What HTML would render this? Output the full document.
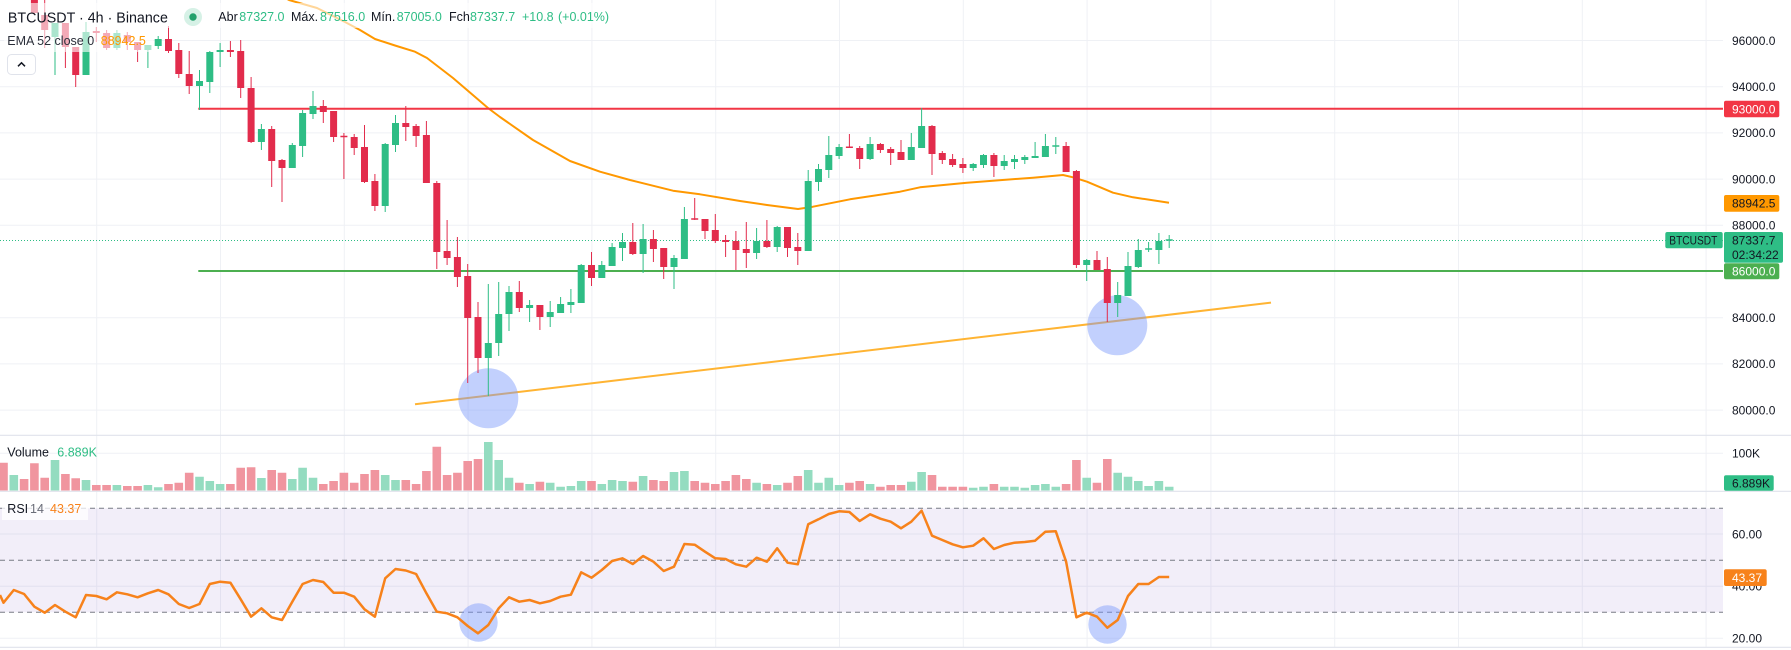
<!DOCTYPE html>
<html><head><meta charset="utf-8"><style>
html,body{margin:0;padding:0;background:#fff;width:1791px;height:650px;overflow:hidden}
svg{display:block;font-family:"Liberation Sans",sans-serif}
</style></head><body>
<svg width="1791" height="650" viewBox="0 0 1791 650" xmlns="http://www.w3.org/2000/svg">
<rect width="1791" height="650" fill="#fff"/>
<!-- grid -->
<g stroke="#eff1f5" stroke-width="1">
<path d="M0 40.5H1723M0 86.7H1723M0 132.9H1723M0 179.1H1723M0 225.3H1723M0 317.7H1723M0 363.9H1723M0 410.1H1723M0 453.3H1723M0 534H1723M0 586.3H1723M0 638.3H1723"/>
<path d="M96.7 0V647M220.5 0V647M344.3 0V647M468.1 0V647M591.9 0V647M715.7 0V647M839.5 0V647M963.3 0V647M1087.1 0V647M1210.9 0V647M1334.7 0V647M1458.5 0V647M1582.3 0V647M1706.1 0V647"/>
</g>
<!-- pane separators -->
<g stroke="#e0e3eb" stroke-width="1.2">
<path d="M0 435.3H1791M0 491.3H1791M0 647.3H1791"/>
</g>
<!-- RSI band -->
<rect x="0" y="508.3" width="1723" height="104" fill="rgb(126,87,194)" fill-opacity="0.1"/>
<g stroke="#787b86" stroke-width="1" stroke-dasharray="5 4">
<path d="M0 508.3H1723M0 560.3H1723M0 612.3H1723"/>
</g>
<!-- volume -->
<path fill="none" stroke="#94dcc0" stroke-width="8.6" d="M13.8 490.5V475M55 490.5V460M86 490.5V480M116.9 490.5V485M147.9 490.5V485M158.2 490.5V487.3M199.5 490.5V476.7M209.8 490.5V481M220.1 490.5V484M261.4 490.5V478M292.3 490.5V479M302.6 490.5V467.7M313 490.5V477.7M385.2 490.5V475M395.5 490.5V480M488.3 490.5V442M498.7 490.5V460M509 490.5V477.7M529.6 490.5V484M550.2 490.5V482.7M560.6 490.5V486.7M570.9 490.5V486M581.2 490.5V481M601.8 490.5V484M612.1 490.5V480M622.5 490.5V481M643.1 490.5V476M674 490.5V472M684.4 490.5V471M756.6 490.5V482.7M777.2 490.5V485M808.2 490.5V470M818.5 490.5V482.7M828.8 490.5V477.7M839.1 490.5V485M870.1 490.5V484M911.3 490.5V481.7M921.6 490.5V472M973.2 490.5V487.7M983.5 490.5V486.7M1004.2 490.5V486.7M1014.5 490.5V486.7M1024.8 490.5V487.7M1035.1 490.5V485M1045.4 490.5V484M1055.8 490.5V486.7M1086.7 490.5V477.7M1117.7 490.5V472.7M1128 490.5V476.7M1138.3 490.5V481M1148.6 490.5V486M1158.9 490.5V481M1169.2 490.5V486.7"/>
<path fill="none" stroke="#f0959f" stroke-width="8.6" d="M3.5 490.5V462.7M24.1 490.5V479M34.4 490.5V463.3M44.7 490.5V477.7M65.4 490.5V474M75.7 490.5V478.3M96.3 490.5V485M106.6 490.5V485M127.3 490.5V486M137.6 490.5V486M168.5 490.5V484M178.8 490.5V482.7M189.2 490.5V472.7M230.4 490.5V484M240.7 490.5V467.7M251.1 490.5V467.3M271.7 490.5V470M282 490.5V472.7M323.3 490.5V484M333.6 490.5V481M343.9 490.5V472.7M354.2 490.5V482.7M364.5 490.5V474M374.9 490.5V470M405.8 490.5V480M416.1 490.5V484M426.4 490.5V471M436.8 490.5V446.7M447.1 490.5V475M457.4 490.5V472.7M467.7 490.5V461M478 490.5V459M519.3 490.5V482.7M539.9 490.5V481.7M591.5 490.5V481M632.8 490.5V481.7M653.4 490.5V480M663.7 490.5V481M694.7 490.5V481M705 490.5V482.7M715.3 490.5V484M725.6 490.5V481M735.9 490.5V475M746.3 490.5V479M766.9 490.5V484M787.5 490.5V482.7M797.8 490.5V476M849.4 490.5V482.7M859.7 490.5V481M880.4 490.5V486.7M890.7 490.5V485M901 490.5V485M932 490.5V475M942.3 490.5V486.7M952.6 490.5V486.7M962.9 490.5V486.7M993.9 490.5V484M1066.1 490.5V484M1076.4 490.5V460M1097 490.5V482.7M1107.3 490.5V459"/>
<!-- trend line -->
<line x1="415" y1="404.3" x2="1271" y2="302.6" stroke="#ffb433" stroke-width="2"/>
<!-- circles price -->
<circle cx="488.3" cy="398.3" r="30" fill="rgb(120,150,250)" fill-opacity="0.45"/>
<circle cx="1117.3" cy="325.3" r="30" fill="rgb(120,150,250)" fill-opacity="0.45"/>
<!-- EMA -->
<path fill="none" stroke="#ff9800" stroke-width="2" stroke-linejoin="round" d="M280 -5L289 0L317 8L345 22L360 30L375 39L395 45.5L415 51.7L427 58L453 78L488 108L500 117L533 140L570 161L600 171.7L630 180L673 190.7L700 194.3L740 201L767 205L798 209L813 206.7L850 199.3L900 191.7L920 187.3L967 182.7L1033 177.7L1063 175L1073 177.3L1087 181.7L1113 192.7L1133 197.3L1169 202.7"/>
<!-- horizontal lines -->
<line x1="198.3" y1="108.7" x2="1723" y2="108.7" stroke="#f23645" stroke-width="2"/>
<line x1="198.3" y1="271" x2="1723" y2="271" stroke="#4caf50" stroke-width="2"/>
<line x1="0" y1="240.5" x2="1723" y2="240.5" stroke="#2ebd85" stroke-width="1" stroke-dasharray="1 2"/>
<!-- candles green -->
<path fill="none" stroke="#2ebd85" stroke-width="1" d="M55 23V75M86 22V75M116.9 30V50M147.9 45V68M158.2 36V49M199.5 70V110M209.8 51V93M220.1 43V67M261.4 124V150M292.3 143V168M302.6 110V157M313 91V119M385.2 143V212M395.5 115V152M488.3 284V396M498.7 282V356M509 286V331M529.6 300V322M550.2 301V327M560.6 297V313M570.9 289V313M581.2 264V303M601.8 261V278M612.1 243V266M622.5 233V261M643.1 224V273M674 255V289M684.4 207V259M756.6 228V259M777.2 226V252M808.2 170V251M818.5 164V191M828.8 136V178M839.1 144V159M870.1 137V160M911.3 133V160M921.6 108V148M973.2 163V171M983.5 154V168M1004.2 155V170M1014.5 155V169M1024.8 155V164M1035.1 142V158M1045.4 134V157M1055.8 137V154M1086.7 259V281M1117.7 282V317M1128 252V296M1138.3 239V268M1148.6 242V252M1158.9 233V264M1169.2 235V248"/>
<path fill="none" stroke="#2ebd85" stroke-width="7" d="M55 23V37M86 32V75M116.9 33V48M147.9 45V50M158.2 39V46M199.5 81V86M209.8 52V82M220.1 50V52M261.4 129V142M292.3 145V168M302.6 113V146M313 106V114M385.2 144V206M395.5 123V145M488.3 343V358M498.7 314V343M509 292V314M529.6 305V308M550.2 312V317M560.6 304V313M570.9 302V305M581.2 265V303M601.8 265V278M612.1 247V266M622.5 242V248M643.1 239V254M674 258V267M684.4 219V259M756.6 241V253M777.2 227V247M808.2 181V251M818.5 169V182M828.8 155V170M839.1 147V156M870.1 144V159M911.3 147V160M921.6 126V148M973.2 164V168M983.5 155V165M1004.2 161V166M1014.5 159V162M1024.8 157V160M1035.1 156V158M1045.4 146V157M1055.8 145.3V146.8M1086.7 260V265M1117.7 295V303M1128 266V296M1138.3 250V267M1148.6 248.3V249.8M1158.9 241V250M1169.2 239.3V240.8"/>
<!-- candles red -->
<path fill="none" stroke="#e22c4c" stroke-width="1" d="M34.4 -5V15M44.7 0V48M65.4 23V68M75.7 47V87M96.3 27V42M106.6 30V50M127.3 32V50M137.6 42V62M168.5 26V53M178.8 43V78M189.2 51V94M230.4 41V57M240.7 40V98M251.1 77V143M271.7 126V187M282 159V202M323.3 100V123M333.6 111V142M343.9 133V179M354.2 134V155M364.5 125V183M374.9 174V211M405.8 106V141M416.1 124V147M426.4 121V183M436.8 181V269M447.1 220V265M457.4 237V287M467.7 264V383M478 302V373M519.3 281V312M539.9 305V330M591.5 252V286M632.8 223V255M653.4 230V262M663.7 248V279M694.7 198V220M705 219V239M715.3 214V243M725.6 235V257M735.9 231V270M746.3 222V268M766.9 220V248M787.5 227V257M797.8 233V265M849.4 134V148M859.7 146V169M880.4 143V153M890.7 147V165M901 140V160M932 125V175M942.3 151V164M952.6 154V167M962.9 158V173M993.9 153V177M1066.1 142V172M1076.4 170V268M1097 251V270M1107.3 257V322"/>
<path fill="none" stroke="#e22c4c" stroke-width="7" d="M34.4 -5V13M44.7 15V30M65.4 23V47M75.7 47V75M96.3 31V33M106.6 33V48M127.3 35V42M137.6 42V50M168.5 39V51M178.8 50V74M189.2 74V86M230.4 50V52M240.7 51V88M251.1 88V142M271.7 129V161M282 160V168M323.3 106V112M333.6 111V137M343.9 135.8V137.3M354.2 137V148M364.5 147V182M374.9 181V206M405.8 123V127M416.1 126V136M426.4 135V183M436.8 183V252M447.1 251V258M457.4 257V277M467.7 276V318M478 317V358M519.3 292V308M539.9 305V317M591.5 265V278M632.8 242V254M653.4 239V249M663.7 248V267M694.7 218.3V219.8M705 219V231M715.3 230V241M725.6 240V242M735.9 241V250M746.3 249V253M766.9 241V247M787.5 227V248M797.8 247V251M849.4 146.5V148M859.7 148V159M880.4 144V150M890.7 149V153M901 152V160M932 126V154M942.3 153V160M952.6 159V165M962.9 164V168M993.9 155V166M1066.1 146V172M1076.4 171V265M1097 260V270M1107.3 269V303"/>
<!-- legend backgrounds -->
<rect x="4" y="3" width="606" height="25" fill="#fff" fill-opacity="0.6"/>
<rect x="4" y="28" width="149" height="24" fill="#fff" fill-opacity="0.6"/>
<rect x="2" y="503" width="86" height="17" fill="#fff" fill-opacity="0.75"/>
<!-- legend line 1 -->
<text x="7.9" y="22.5" font-size="14.5" fill="#131722" textLength="160" lengthAdjust="spacingAndGlyphs">BTCUSDT · 4h · Binance</text>
<circle cx="193" cy="17" r="9" fill="#d6f1e6"/>
<circle cx="193" cy="17" r="3.7" fill="#22a06b"/>
<g font-size="12.5">
<text x="218.3" y="20.8" fill="#131722">Abr</text>
<text x="239.3" y="20.8" fill="#2ebd85">87327.0</text>
<text x="291" y="20.8" fill="#131722">Máx.</text>
<text x="320" y="20.8" fill="#2ebd85">87516.0</text>
<text x="371" y="20.8" fill="#131722">Mín.</text>
<text x="396.7" y="20.8" fill="#2ebd85">87005.0</text>
<text x="449" y="20.8" fill="#131722">Fch</text>
<text x="470" y="20.8" fill="#2ebd85">87337.7</text>
<text x="522" y="20.8" fill="#2ebd85">+10.8</text>
<text x="558" y="20.8" fill="#2ebd85">(+0.01%)</text>
<text x="7.3" y="45" fill="#2a2e39">EMA 52 close 0</text>
<text x="100.7" y="45" fill="#ff9800">88942.5</text>
<text x="7.3" y="456.7" fill="#131722">Volume</text>
<text x="57.3" y="456.7" fill="#2ebd85">6.889K</text>
<text x="7.3" y="513" fill="#131722">RSI</text>
<text x="30" y="513" fill="#6a6d78">14</text>
<text x="50" y="513" fill="#f7821b">43.37</text>
</g>
<!-- collapse button -->
<rect x="7.5" y="54.5" width="28" height="20" rx="4" fill="#fff" stroke="#e0e3eb"/>
<path d="M18 66.3L21.5 62.8L25 66.3" fill="none" stroke="#131722" stroke-width="1.5"/>
<!-- RSI circles and line -->
<circle cx="478.5" cy="622.5" r="19.2" fill="rgb(120,150,250)" fill-opacity="0.45"/>
<circle cx="1107.5" cy="624.5" r="19.2" fill="rgb(120,150,250)" fill-opacity="0.45"/>
<polyline fill="none" stroke="#f7821b" stroke-width="2.5" stroke-linejoin="round" points="0,595 3.5,602.7 13.8,590 24.1,594 34.4,606.7 44.7,612.7 55,605 65.4,611.7 75.7,617.3 86,595 96.3,596 106.6,599.3 116.9,592.3 127.3,594.3 137.6,597.3 147.9,593.3 158.2,590 168.5,594.3 178.8,604 189.2,608 199.5,604 209.8,584 220.1,581.7 230.4,582.7 240.7,599.3 251.1,616.7 261.4,608.3 271.7,617.3 282,620 292.3,601.7 302.6,584 313,580 323.3,582 333.6,592.7 343.9,592.7 354.2,596.7 364.5,609.3 374.9,616.7 385.2,578.3 395.5,569 405.8,570.5 416.1,574 426.4,593.3 436.8,611.7 447.1,613.3 457.4,617.3 467.7,626 478,633.3 488.3,625 498.7,608.3 509,597.3 519.3,601.7 529.6,600 539.9,603.3 550.2,601 560.6,596.7 570.9,594.7 581.2,572.3 591.5,577.7 601.8,570 612.1,561 622.5,558.3 632.8,564 643.1,556 653.4,561.7 663.7,571 674,566.7 684.4,544 694.7,544.7 705,551.7 715.3,558.3 725.6,559 735.9,564.3 746.3,566.7 756.6,557.7 766.9,561.7 777.2,548.3 787.5,562.7 797.8,564.3 808.2,524.3 818.5,519.3 828.8,514 839.1,511.3 849.4,512 859.7,521 870.1,514.3 880.4,518.7 890.7,521.7 901,528.3 911.3,521.7 921.6,510.7 932,535.7 942.3,540 952.6,544.3 962.9,547.3 973.2,545.7 983.5,538.3 993.9,549 1004.2,545 1014.5,542.7 1024.8,542 1035.1,540.7 1045.4,531.7 1055.8,531.3 1066.1,561.7 1076.4,617.3 1086.7,612.7 1097,616.7 1107.3,627.7 1117.7,620 1128,596 1138.3,584 1148.6,584 1158.9,577 1169.2,577"/>
<!-- axis labels -->
<g font-size="12" fill="#131722">
<text x="1732" y="45">96000.0</text>
<text x="1732" y="91">94000.0</text>
<text x="1732" y="137.2">92000.0</text>
<text x="1732" y="183.4">90000.0</text>
<text x="1732" y="229.6">88000.0</text>
<text x="1732" y="322">84000.0</text>
<text x="1732" y="368.2">82000.0</text>
<text x="1732" y="414.4">80000.0</text>
<text x="1732" y="457.6">100K</text>
<text x="1732" y="538.3">60.00</text>
<text x="1732" y="590.6">40.00</text>
<text x="1732" y="642.6">20.00</text>
</g>
<rect x="1724" y="100.7" width="55.3" height="16.6" rx="2" fill="#f23645"/>
<text x="1732" y="113.3" font-size="12" fill="#fff">93000.0</text>
<rect x="1724" y="195" width="55.3" height="16.7" rx="2" fill="#ff9800"/>
<text x="1732" y="207.6" font-size="12" fill="#131722">88942.5</text>
<rect x="1665.3" y="232" width="57.4" height="16.3" rx="2" fill="#2ebd85"/>
<text x="1669.3" y="244.4" font-size="12" fill="#131722" textLength="48" lengthAdjust="spacingAndGlyphs">BTCUSDT</text>
<rect x="1724" y="232" width="59" height="30.7" rx="2" fill="#2ebd85"/>
<text x="1732" y="244.4" font-size="12" fill="#131722">87337.7</text>
<text x="1732" y="259" font-size="12" fill="#131722">02:34:22</text>
<rect x="1724" y="263.3" width="55.3" height="16" rx="2" fill="#4caf50"/>
<text x="1732" y="275.6" font-size="12" fill="#fff">86000.0</text>
<rect x="1724" y="475.3" width="49.7" height="15.4" rx="2" fill="#2ebd85"/>
<text x="1732" y="487.3" font-size="12" fill="#131722">6.889K</text>
<rect x="1724" y="569.3" width="42.7" height="16.7" rx="2" fill="#f7821b"/>
<text x="1732" y="581.9" font-size="12" fill="#fff">43.37</text>
</svg>
</body></html>
